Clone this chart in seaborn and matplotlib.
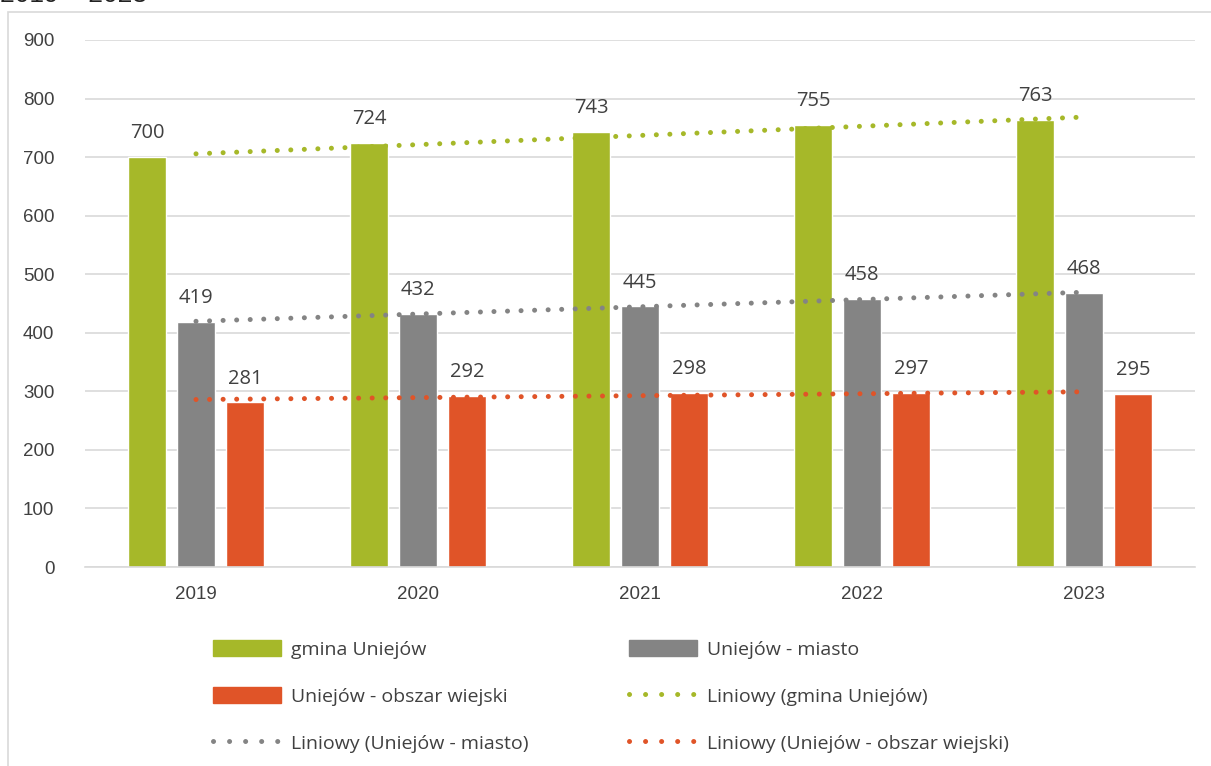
import numpy as np
import pandas as pd
import matplotlib
matplotlib.use("Agg")
import matplotlib.pyplot as plt
from matplotlib.patches import Rectangle, Patch
from matplotlib.lines import Line2D
import seaborn as sns

# Dane
years = ["2019", "2020", "2021", "2022", "2023"]
gmina = [700, 724, 743, 755, 763]
miasto = [419, 432, 445, 458, 468]
wies = [281, 292, 298, 297, 295]
series_names = ["gmina Uniejów", "Uniejów - miasto", "Uniejów - obszar wiejski"]
colors = ["#A6B829", "#848484", "#E05428"]

df = pd.DataFrame({
    "Rok": years * 3,
    "Wartosc": gmina + miasto + wies,
    "Seria": [s for s in series_names for _ in years],
})

sns.set_theme(style="white")
plt.rcParams["font.family"] = ["Open Sans", "DejaVu Sans"]

fig = plt.figure(figsize=(12.11, 7.66), dpi=100)
ax = fig.add_axes([85 / 1211, 1 - 567 / 766, 1110 / 1211, 527 / 766])

# ramka wykresu
fig.patches.append(Rectangle((8 / 1211, -0.1), 1.2, 1 - 12 / 766 + 0.1,
                             transform=fig.transFigure, fill=False,
                             edgecolor="#D9D9D9", linewidth=1.2))
fig.text(0.0, 1.006, "2019 – 2023", fontsize=19, color="#222222",
         va="center", ha="left", family=["Liberation Sans"])

sns.barplot(data=df, x="Rok", y="Wartosc", hue="Seria", palette=colors,
            width=0.66, gap=0.22, legend=False, ax=ax, saturation=1)

for container in ax.containers:
    ax.bar_label(container, fmt="%d", padding=10, fontsize=14.5, color="#404040")

# Linie trendu (liniowe)
x = np.arange(len(years))
dot = (0, (0.01, 2.7))
for vals, col in zip([gmina, miasto, wies], colors):
    a, b = np.polyfit(x, vals, 1)
    ax.plot(x, a * x + b, color=col, linewidth=3.6, linestyle=dot,
            dash_capstyle="round", zorder=5)

ax.set_xlim(-0.5, 4.5)
ax.set_ylim(0, 900)
ax.set_yticks(range(0, 901, 100))
ax.grid(axis="y", color="#D9D9D9", linewidth=1.2)
ax.set_axisbelow(True)
for s in ["top", "right", "left"]:
    ax.spines[s].set_visible(False)
ax.spines["bottom"].set_color("#D9D9D9")
ax.spines["bottom"].set_linewidth(1.2)
ax.set_xlabel("")
ax.set_ylabel("")
ax.tick_params(axis="both", length=0, labelsize=13.5, colors="#404040")
ax.tick_params(axis="x", pad=14)
ax.tick_params(axis="y", pad=22)
for lab in ax.get_xticklabels() + ax.get_yticklabels():
    lab.set_family(["Liberation Sans"])

# Legenda
h_bar = [Patch(color=c) for c in colors]
h_line = [Line2D([0], [0], color=c, linewidth=3.6, linestyle=(0, (0.01, 3.2)),
                 dash_capstyle="round") for c in colors]
handles = [h_bar[0], h_bar[2], h_line[1], h_bar[1], h_line[0], h_line[2]]
labels = [series_names[0], series_names[2], "Liniowy (Uniejów - miasto)",
          series_names[1], "Liniowy (gmina Uniejów)",
          "Liniowy (Uniejów - obszar wiejski)"]
leg = fig.legend(handles, labels, ncol=2, loc="upper left",
                 bbox_to_anchor=(213 / 1211, 1 - 640 / 766), frameon=False,
                 fontsize=14, handlelength=3.5, handleheight=0.9,
                 labelspacing=1.45, columnspacing=5.2, borderpad=0,
                 borderaxespad=0, handletextpad=0.5)
for t in leg.get_texts():
    t.set_color("#404040")

fig.savefig("out.png", dpi=100)
